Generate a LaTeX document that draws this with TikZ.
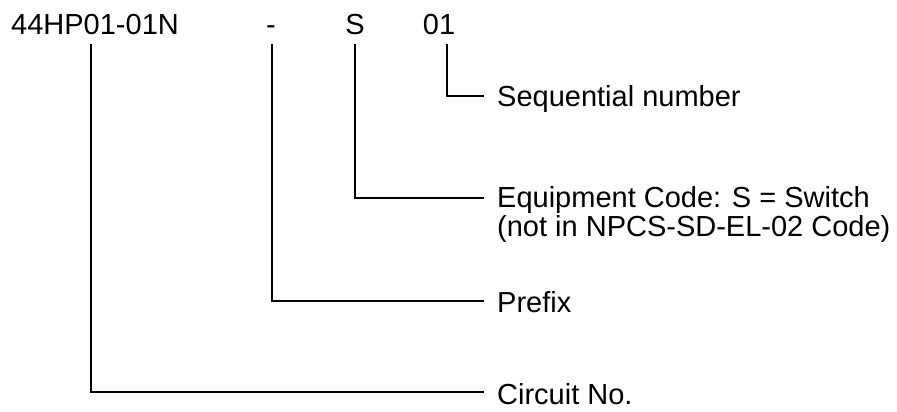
\documentclass[tikz,border=0pt]{standalone}
\usepackage{fontspec}
\setmainfont{Liberation Sans}
\begin{document}
\begin{tikzpicture}[x=1pt,y=1pt,
  lbl/.style={inner sep=0pt, anchor=base west, font=\fontsize{29}{29}\selectfont},
  top/.style={inner sep=0pt, anchor=base, font=\fontsize{29}{29}\selectfont},
  conn/.style={line width=1.7pt, line cap=rect}]
\useasboundingbox (0,0) rectangle (897,412);
% code parts
\node[lbl] (code) at (11,377) {44HP01-01N};
\node[top] (dash) at (271,377) {-};
\node[top] (sw) at (355,377) {S};
\node[top] (seq) at (439,377) {01};
% labels
\node[lbl] (seqlbl) at (497,305) {Sequential number};
\node[lbl] (eqlbl) at (497,204) {Equipment Code: S = Switch};
\node[lbl] (eqlbl2) at (497,175) {(not in NPCS-SD-EL-02 Code)};
\node[lbl] (prelbl) at (497,99) {Prefix};
\node[lbl] (cirlbl) at (497,7) {Circuit No.};
% connector points
\coordinate (c1) at (90.7,367);
\coordinate (c2) at (271.7,367);
\coordinate (c3) at (355,367);
\coordinate (c4) at (446.7,367);
\coordinate (e1) at (483,20);
\coordinate (e2) at (483,111);
\coordinate (e3) at (483,214);
\coordinate (e4) at (483,316);
\draw[conn] (c1) |- (e1);
\draw[conn] (c2) |- (e2);
\draw[conn] (c3) |- (e3);
\draw[conn] (c4) |- (e4);
\end{tikzpicture}
\end{document}
